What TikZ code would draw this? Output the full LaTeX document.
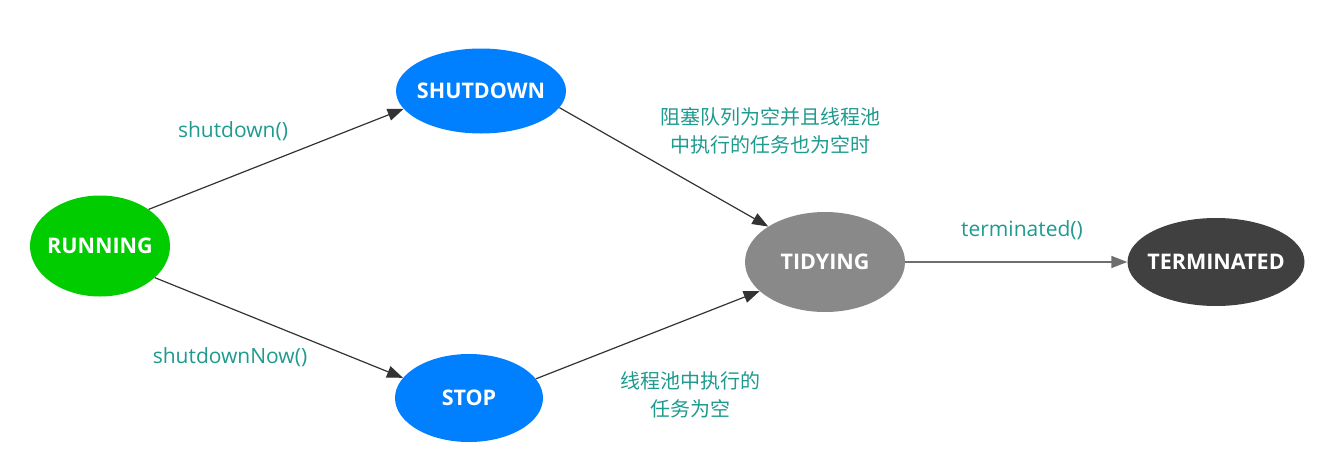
\documentclass[tikz,border=0pt]{standalone}
\usepackage{fontspec}
\setmainfont{Open Sans}
\newfontfamily\cjk{Noto Sans CJK SC}
\usetikzlibrary{shapes.geometric,arrows.meta}
\definecolor{cgreen}{HTML}{00CC00}
\definecolor{cblue}{HTML}{0080FF}
\definecolor{cgray}{HTML}{898989}
\definecolor{cdark}{HTML}{404040}
\definecolor{cteal}{HTML}{1E9A8F}
\definecolor{cline}{HTML}{333333}
\newcommand{\zw}[1]{\makebox[0pt]{#1}}
\tikzset{
  state/.style={ellipse, inner sep=0pt, text=white, font=\fontsize{21.5}{24}\selectfont\bfseries},
  lbl/.style={text=cteal, font=\fontsize{21}{28}\selectfont, align=center},
  cjklbl/.style={text=cteal, font=\fontsize{20}{28}\selectfont\cjk, align=center},
  conn/.style={draw=cline, line width=1.2pt, -{Triangle[length=16pt,width=12pt]}}
}
\begin{document}
\begin{tikzpicture}[x=1pt,y=-1pt]
\useasboundingbox (0,0) rectangle (1317,461);
\node[state, fill=cgreen, minimum width=140pt, minimum height=101pt] (run) at (100,246) {\zw{RUNNING}};
\node[state, fill=cblue, minimum width=170pt, minimum height=85pt] (shut) at (481,91) {\zw{SHUTDOWN}};
\node[state, fill=cblue, minimum width=148pt, minimum height=88pt] (stop) at (469,398) {\zw{STOP}};
\node[state, fill=cgray, minimum width=160pt, minimum height=100pt] (tidy) at (825,262) {\zw{TIDYING}};
\node[state, fill=cdark, minimum width=177pt, minimum height=88pt] (term) at (1216,262) {\zw{TERMINATED}};

\node[lbl] (l1) at (233,131) {shutdown()};
\node[lbl] (l2) at (230,357) {shutdownNow()};
\node[cjklbl] (l3) at (770,131) {阻塞队列为空并且线程池\\中执行的任务也为空时};
\node[cjklbl] (l4) at (690,395) {线程池中执行的\\任务为空};
\node[lbl] (l5) at (1022,230) {terminated()};

\draw[conn] (run.37) -- (shut.193);
\draw[conn] (run.-30) -- (stop.163);
\draw[conn] (shut.-12) -- (tidy.148);
\draw[conn] (stop.16) -- (tidy.204);
\draw[conn, draw=cgray!80!black, line width=1.6pt] (tidy.east) -- (term.west);
\end{tikzpicture}
\end{document}
